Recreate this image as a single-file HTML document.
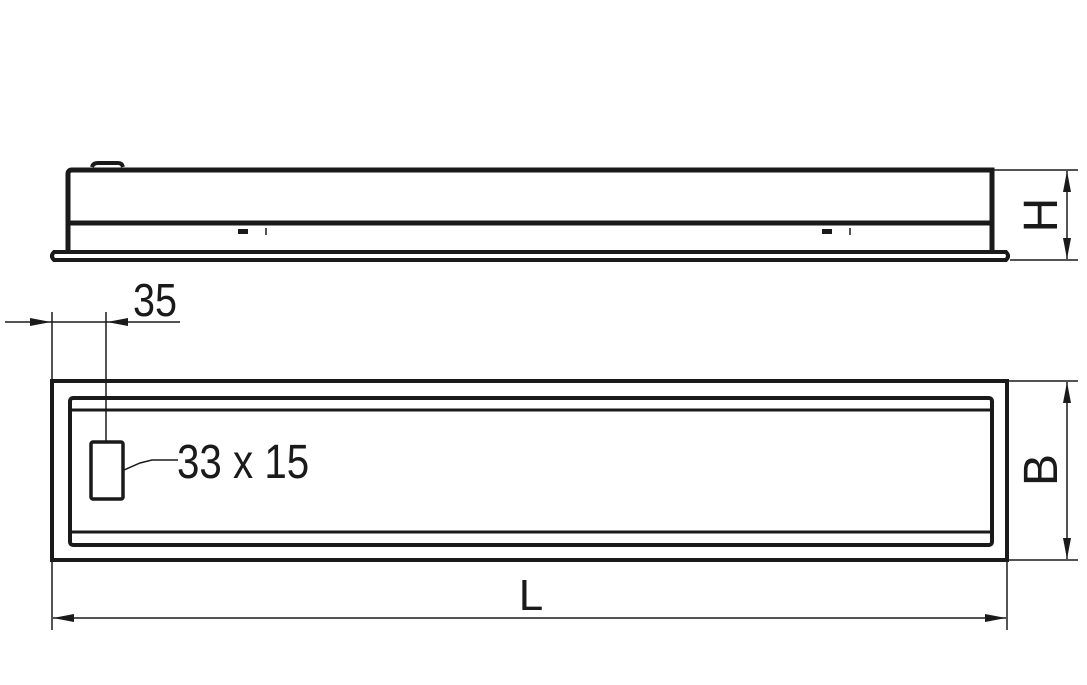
<!DOCTYPE html>
<html><head><style>body{margin:0;background:#fff}svg{display:block}</style></head><body>
<svg width="1087" height="685" viewBox="0 0 1087 685" xmlns="http://www.w3.org/2000/svg">
<g stroke="#1a1a1a" fill="none">
<path d="M92,167 Q93,163 98,163 L118,163 Q122,163 123,167" stroke-width="4"/>
<path d="M68,250 L68,174 Q68,170 72,170 L992,170 L992,250" stroke-width="5"/>
<line x1="68" y1="223" x2="992" y2="223" stroke-width="5"/>
<path d="M54,252 L1006,252 Q1010,256 1006,260 L54,260 Q50,256 54,252 Z" stroke-width="4"/>
<rect x="238" y="229" width="10" height="5" fill="#1a1a1a" stroke="none"/>
<line x1="266" y1="228" x2="266" y2="235" stroke-width="1.5"/>
<rect x="822" y="229" width="10" height="5" fill="#1a1a1a" stroke="none"/>
<line x1="850" y1="228" x2="850" y2="235" stroke-width="1.5"/>
<line x1="994" y1="170" x2="1078" y2="170" stroke-width="1.5"/>
<line x1="1010" y1="260" x2="1078" y2="260" stroke-width="1.5"/>
<line x1="1067" y1="171" x2="1067" y2="259" stroke-width="1.5"/>
<rect x="52" y="381" width="955" height="179" stroke-width="4"/>
<rect x="70" y="398" width="922" height="147" rx="3" stroke-width="4"/>
<line x1="70" y1="410" x2="992" y2="410" stroke-width="3"/>
<line x1="70" y1="532" x2="992" y2="532" stroke-width="3"/>
<rect x="91" y="442" width="32" height="57" rx="2" stroke-width="3.5"/>
<line x1="106" y1="312" x2="106" y2="442" stroke-width="1.5"/>
<path d="M124,470 L140,463 L152,460 L178,460" stroke-width="1.5"/>
<line x1="52" y1="312" x2="52" y2="381" stroke-width="1.5"/>
<line x1="5" y1="322" x2="180" y2="322" stroke-width="1.5"/>
<line x1="1007" y1="381" x2="1078" y2="381" stroke-width="1.5"/>
<line x1="1007" y1="560" x2="1078" y2="560" stroke-width="1.5"/>
<line x1="1067" y1="382" x2="1067" y2="559" stroke-width="1.5"/>
<line x1="52" y1="560" x2="52" y2="630" stroke-width="1.5"/>
<line x1="1007" y1="560" x2="1007" y2="630" stroke-width="1.5"/>
<line x1="53" y1="618" x2="1006" y2="618" stroke-width="1.5"/>
</g>
<g fill="#1a1a1a">
<polygon points="51,322 30,318 30,326"/>
<polygon points="107,322 128,318 128,326"/>
<polygon points="1067,171 1063,192 1071,192"/>
<polygon points="1067,259 1063,238 1071,238"/>
<polygon points="1067,382 1063,403 1071,403"/>
<polygon points="1067,559 1063,538 1071,538"/>
<polygon points="53,618 74,614 74,622"/>
<polygon points="1006,618 985,614 985,622"/>
</g>
<g font-family="Liberation Sans, sans-serif" fill="#1a1a1a">
<text x="0" y="0" font-size="46" transform="translate(133,316) scale(0.86,1)">35</text>
<text x="0" y="0" font-size="48" transform="translate(177,478) scale(0.84,1)">33 x 15</text>
<text x="531" y="610" font-size="44" text-anchor="middle">L</text>
<text x="0" y="0" font-size="48" text-anchor="middle" transform="translate(1057,215) rotate(-90)">H</text>
<text x="0" y="0" font-size="48" text-anchor="middle" transform="translate(1057,470) rotate(-90)">B</text>
</g>
</svg>
</body></html>
